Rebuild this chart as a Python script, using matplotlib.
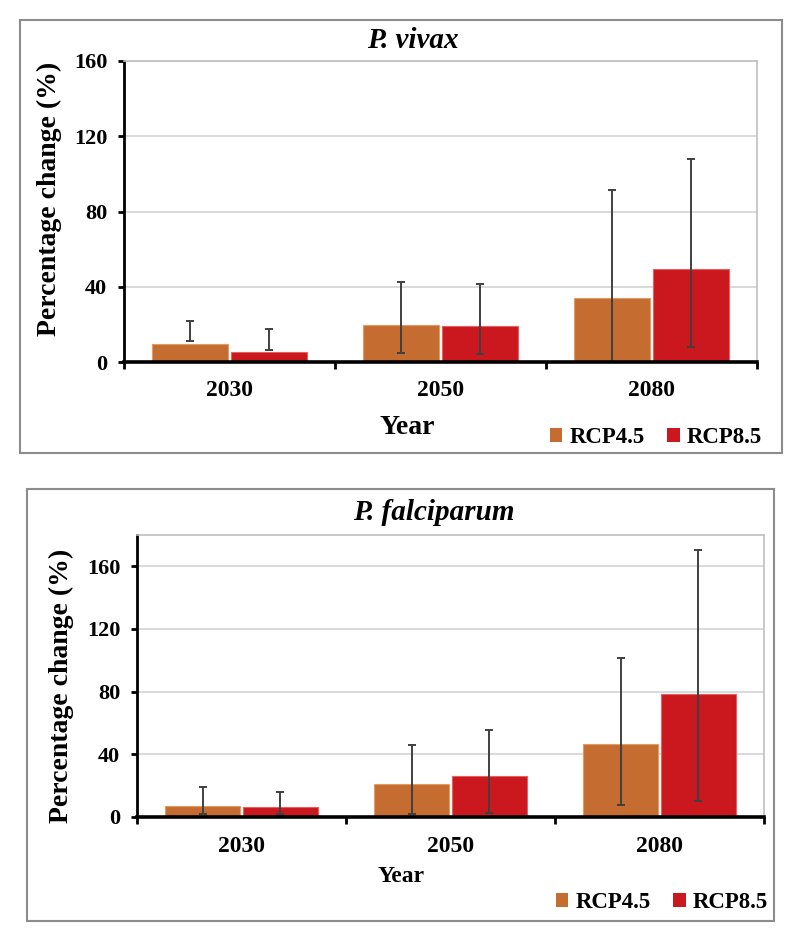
import matplotlib
matplotlib.use("Agg")
import matplotlib.pyplot as plt
import numpy as np
from matplotlib.patches import Rectangle, Patch

# ====== Data ======
years = ["2030", "2050", "2080"]
series = ["RCP4.5", "RCP8.5"]

# P. vivax
vivax_rcp45 = [9.8, 19.9, 33.9]
vivax_rcp45_lo = [10.9, 4.8, 0.0]
vivax_rcp45_hi = [22.0, 42.5, 91.5]
vivax_rcp85 = [5.3, 19.2, 49.5]
vivax_rcp85_lo = [6.3, 4.0, 8.1]
vivax_rcp85_hi = [17.3, 41.4, 107.9]

# P. falciparum
falc_rcp45 = [7.0, 21.0, 46.3]
falc_rcp45_lo = [1.9, 1.9, 7.7]
falc_rcp45_hi = [18.9, 46.1, 101.8]
falc_rcp85 = [6.4, 25.9, 78.6]
falc_rcp85_lo = [1.9, 2.8, 10.4]
falc_rcp85_hi = [16.0, 55.5, 170.2]

y_ticks = [0, 40, 80, 120, 160]

# ====== Style ======
ORANGE = "#C56D30"
RED = "#CB181E"
ERR = "#404040"
plt.rcParams["font.family"] = ["Liberation Serif", "DejaVu Serif"]
plt.rcParams["font.weight"] = "bold"

W, H = 800, 941
fig = plt.figure(figsize=(W / 100, H / 100), dpi=100)


def fx(px):
    return px / W


def fy(py):
    return 1 - py / H


def draw_panel(rect, vals45, lo45, hi45, vals85, lo85, hi85, ymax, xpad):
    ax = fig.add_axes(rect)
    x = np.arange(len(years))
    bw = 0.36
    off = 0.185
    ax.bar(x - off, vals45, bw, color=ORANGE, edgecolor="#E39A63", linewidth=0.8, zorder=2)
    ax.bar(x + off, vals85, bw, color=RED, edgecolor="#E56060", linewidth=0.8, zorder=2)

    # error bars drawn as low-high ranges
    for xs, lo, hi in ((x - off, lo45, hi45), (x + off, lo85, hi85)):
        lo = np.array(lo)
        hi = np.array(hi)
        ax.errorbar(xs, (lo + hi) / 2, yerr=(hi - lo) / 2, fmt="none",
                    ecolor=ERR, elinewidth=1.4, capsize=3, capthick=1.4, zorder=3)

    ax.set_xlim(-0.5, len(years) - 0.5)
    ax.set_ylim(0, ymax)
    ax.set_yticks(y_ticks)
    ax.set_yticklabels([str(t) for t in y_ticks], fontsize=16, fontweight="bold")
    ax.set_xticks(x)
    ax.set_xticklabels(years, fontsize=17, fontweight="bold")
    ax.set_xticks(np.arange(len(years) + 1) - 0.5, minor=True)
    ax.tick_params(axis="x", which="major", length=0, pad=xpad)
    ax.tick_params(axis="x", which="minor", length=5, width=2, direction="out")
    ax.tick_params(axis="y", length=4, width=2, direction="out", pad=8)

    ax.yaxis.grid(True, color="#D9D9D9", linewidth=1.4)
    ax.set_axisbelow(True)
    ax.spines["left"].set_linewidth(2)
    ax.spines["left"].set_color("black")
    ax.spines["bottom"].set_linewidth(2.6)
    ax.spines["bottom"].set_color("black")
    ax.spines["bottom"].set_zorder(4)
    for s in ("top", "right"):
        ax.spines[s].set_color("#BFBFBF")
        ax.spines[s].set_linewidth(1.2)
    return ax


# ----- top panel: P. vivax -----
fig.patches.append(Rectangle((fx(20), fy(453)), fx(762), 433 / H, transform=fig.transFigure,
                             fill=False, edgecolor="#8C8C8C", linewidth=1.5))
draw_panel([fx(124), fy(362), fx(633), 301 / H],
           vivax_rcp45, vivax_rcp45_lo, vivax_rcp45_hi,
           vivax_rcp85, vivax_rcp85_lo, vivax_rcp85_hi, 160, 13)
fig.text(fx(413), fy(41), "P. vivax", ha="center", va="center", fontsize=21,
         fontweight="bold", style="italic")
fig.text(fx(49), fy(199), "Percentage change (%)", ha="center", va="center",
         rotation=90, fontsize=20, fontweight="bold")
fig.text(fx(407), fy(428), "Year", ha="center", va="center", fontsize=20, fontweight="bold")

# ----- bottom panel: P. falciparum -----
fig.patches.append(Rectangle((fx(27), fy(921)), fx(747), 432 / H, transform=fig.transFigure,
                             fill=False, edgecolor="#8C8C8C", linewidth=1.5))
draw_panel([fx(137), fy(817), fx(627), 282 / H],
           falc_rcp45, falc_rcp45_lo, falc_rcp45_hi,
           falc_rcp85, falc_rcp85_lo, falc_rcp85_hi, 180, 14)
fig.text(fx(434), fy(513), "P. falciparum", ha="center", va="center", fontsize=21,
         fontweight="bold", style="italic")
fig.text(fx(61), fy(686), "Percentage change (%)", ha="center", va="center",
         rotation=90, fontsize=20, fontweight="bold")
fig.text(fx(401), fy(877), "Year", ha="center", va="center", fontsize=17, fontweight="bold")

# ----- legends -----
handles = [Patch(facecolor=ORANGE), Patch(facecolor=RED)]
for cx, cy in ((656, 438), (662, 903)):
    fig.legend(handles, series, loc="center", bbox_to_anchor=(fx(cx), fy(cy)),
               ncol=2, frameon=False, handlelength=0.55, handleheight=0.55,
               handletextpad=0.3, columnspacing=1.0,
               prop={"family": "Liberation Serif", "weight": "bold", "size": 16.5})

fig.savefig("out.png", dpi=100)
